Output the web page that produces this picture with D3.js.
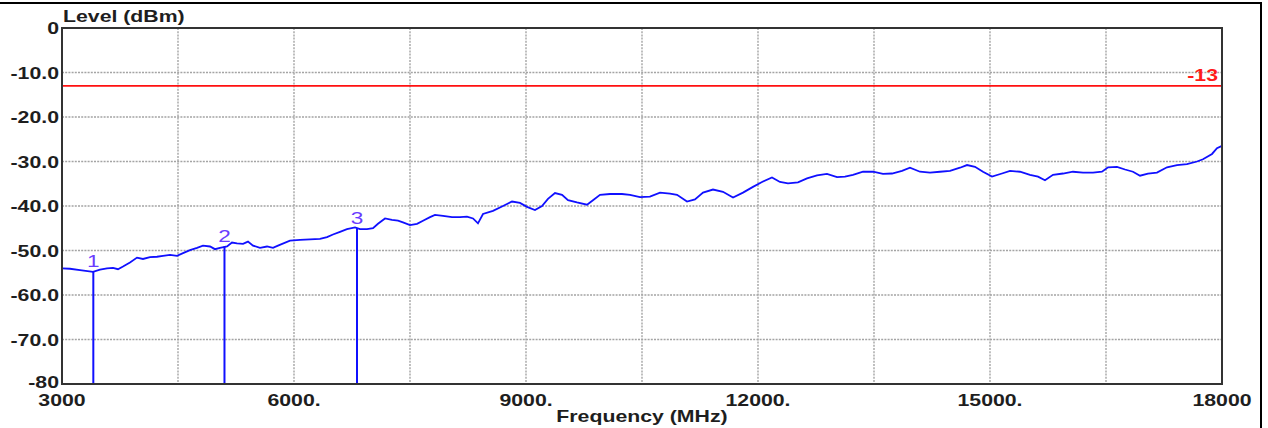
<!DOCTYPE html>
<html><head><meta charset="utf-8">
<script src="https://cdn.jsdelivr.net/npm/d3@7"></script>
<style>
html,body{margin:0;padding:0;background:#fff;}
svg{display:block;}
</style></head>
<body>
<svg id="chart" width="1268" height="428"></svg>
<script>
// ---- data ----
const traceFreqMHz = [3000,3103,3233,3401,3491,3582,3659,3724,3789,3879,3970,4047,4138,4228,4306,4397,4487,4565,4655,4746,4823,4914,4978,5043,5134,5198,5263,5341,5405,5470,5560,5651,5728,5793,5948,6078,6207,6336,6427,6504,6595,6685,6789,6853,6944,7022,7086,7177,7267,7345,7409,7500,7591,7668,7759,7823,7927,8043,8147,8237,8315,8379,8444,8573,8703,8819,8922,9013,9116,9207,9284,9375,9466,9543,9659,9789,9866,9957,10086,10241,10345,10474,10603,10733,10862,10953,11082,11185,11289,11418,11547,11677,11806,11935,12052,12181,12284,12388,12517,12634,12763,12892,13022,13125,13228,13358,13487,13616,13733,13862,13965,14095,14224,14353,14483,14612,14703,14806,14909,15026,15155,15259,15388,15517,15621,15711,15815,15944,16073,16203,16332,16448,16526,16642,16746,16849,16940,17043,17159,17289,17418,17547,17677,17754,17871,17935,18000];
const traceLevelDbm = [-54.0,-54.1,-54.4,-54.8,-54.3,-54.0,-53.9,-54.2,-53.6,-52.7,-51.6,-51.9,-51.5,-51.4,-51.2,-51.0,-51.2,-50.6,-49.9,-49.4,-48.9,-49.1,-49.7,-49.4,-49.1,-48.2,-48.4,-48.5,-48.0,-48.9,-49.4,-49.1,-49.4,-48.9,-47.8,-47.6,-47.5,-47.4,-47.0,-46.4,-45.8,-45.2,-44.8,-45.2,-45.2,-45.0,-44.0,-42.8,-43.1,-43.3,-43.7,-44.3,-44.0,-43.3,-42.5,-42.0,-42.2,-42.5,-42.5,-42.4,-42.8,-43.9,-41.8,-41.1,-40.0,-39.0,-39.3,-40.2,-40.9,-40.0,-38.4,-37.1,-37.5,-38.7,-39.2,-39.7,-38.7,-37.5,-37.3,-37.3,-37.5,-38.0,-37.9,-37.0,-37.2,-37.5,-39.0,-38.5,-37.0,-36.3,-36.8,-38.1,-37.0,-35.7,-34.6,-33.6,-34.6,-34.9,-34.7,-33.8,-33.1,-32.8,-33.5,-33.4,-33.0,-32.3,-32.3,-32.8,-32.7,-32.1,-31.4,-32.3,-32.5,-32.3,-32.1,-31.4,-30.8,-31.2,-32.3,-33.4,-32.7,-32.1,-32.3,-33.0,-33.4,-34.2,-33.0,-32.7,-32.3,-32.5,-32.5,-32.3,-31.3,-31.2,-31.8,-32.3,-33.2,-32.7,-32.5,-31.3,-30.8,-30.6,-30.0,-29.5,-28.3,-27.0,-26.5];

const markerLabels = ["1","2","3"];
const markerFreqMHz = [3405,5101,6815];
const markerLevelDbm = [-54.6,-49.1,-45.0];

const limitLevelDbm = -13;
const limitLabel = "-13";

const yTickValues = [0,-10,-20,-30,-40,-50,-60,-70,-80];
const yTickLabels = ["0","-10.0","-20.0","-30.0","-40.0","-50.0","-60.0","-70.0","-80"];
const xGridValues = [3000,4500,6000,7500,9000,10500,12000,13500,15000,16500,18000];
const xTickValues = [3000,6000,9000,12000,15000,18000];
const xTickLabels = ["3000","6000.","9000.","12000.","15000.","18000"];

const yAxisTitle = "Level (dBm)";
const xAxisTitle = "Frequency (MHz)";

// ---- drawing ----
const svg = d3.select("#chart");
const L = 62, R = 1222, T = 28, B = 384;
const x = d3.scaleLinear().domain([3000,18000]).range([L,R]);
const y = d3.scaleLinear().domain([-80,0]).range([B,T]);
const SX = 1.33;
const FONT = "'Liberation Sans', Arial, sans-serif";

function label(px, py, str, anchor, opts) {
  const g = svg.append("g").attr("transform", `translate(${px},${py}) scale(${SX},1)`);
  g.append("text")
    .attr("x",0).attr("y",0)
    .attr("text-anchor", anchor)
    .attr("font-family", FONT)
    .attr("font-size", opts.size || 16)
    .attr("font-weight", opts.weight || "bold")
    .attr("fill", opts.fill || "#1e1e1e")
    .text(str);
}

// outer frame (top + right)
svg.append("line").attr("x1",0).attr("x2",1262).attr("y1",3).attr("y2",3)
  .attr("stroke","#000").attr("stroke-width",2);
svg.append("line").attr("x1",1261).attr("x2",1261).attr("y1",2).attr("y2",428)
  .attr("stroke","#000").attr("stroke-width",2);

// grid
const grid = svg.append("g");
grid.selectAll("line.gx").data(xGridValues.slice(1,-1)).join("line")
  .attr("x1",d=>x(d)).attr("x2",d=>x(d)).attr("y1",T).attr("y2",B)
  .attr("stroke","#a4a4a4").attr("stroke-width",1.4).attr("stroke-dasharray","2,1.2");
grid.selectAll("line.gy").data(yTickValues.slice(1,-1)).join("line")
  .attr("x1",L).attr("x2",R).attr("y1",d=>y(d)).attr("y2",d=>y(d))
  .attr("stroke","#a4a4a4").attr("stroke-width",1.4).attr("stroke-dasharray","2,1.2");

// limit line
svg.append("line").attr("x1",L).attr("x2",R)
  .attr("y1",y(limitLevelDbm)).attr("y2",y(limitLevelDbm))
  .attr("stroke","#ff1010").attr("stroke-width",1.6);
label(R-4, y(limitLevelDbm)-5, limitLabel, "end", {fill:"#ff1a1a"});

// trace
const traceData = traceFreqMHz.map((f,i)=>[f, traceLevelDbm[i]]);
svg.append("path").datum(traceData)
  .attr("fill","none").attr("stroke","#1010ff").attr("stroke-width",1.8)
  .attr("stroke-linejoin","miter")
  .attr("d", d3.line().x(d=>x(d[0])).y(d=>y(d[1])));

// markers
markerFreqMHz.forEach((f,i)=>{
  svg.append("line").attr("x1",x(f)).attr("x2",x(f))
    .attr("y1",y(markerLevelDbm[i])).attr("y2",B)
    .attr("stroke","#1010ff").attr("stroke-width",2);
  label(x(f), y(markerLevelDbm[i])-4, markerLabels[i], "middle",
        {weight:"normal", size:17, fill:"#6a3cff"});
});

// plot border
svg.append("rect").attr("x",L).attr("y",T).attr("width",R-L).attr("height",B-T)
  .attr("fill","none").attr("stroke","#333").attr("stroke-width",2);

// y tick labels
yTickValues.forEach((v,i)=>{
  const dy = (i === yTickValues.length-1) ? 4 : 6;
  label(L-3, y(v)+dy, yTickLabels[i], "end", {});
});
// x tick labels
xTickValues.forEach((v,i)=>{
  label(x(v), 406, xTickLabels[i], "middle", {});
});

// titles
label(L+1, 22, yAxisTitle, "start", {});
label((L+R)/2, 422, xAxisTitle, "middle", {});
</script>
</body></html>
